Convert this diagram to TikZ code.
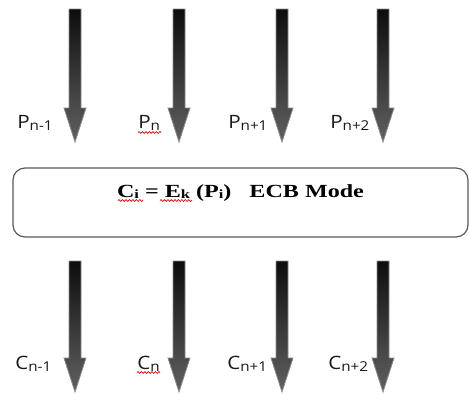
\documentclass[tikz,border=0pt]{standalone}
\usepackage{fontspec}
\setmainfont{Liberation Serif}
\newfontfamily\labelfont{Open Sans}
\usetikzlibrary{decorations.pathmorphing}
\newcommand\lsub[1]{\raisebox{-1.6pt}{\fontsize{10.2}{11}\selectfont #1}}
\newcommand\msub[1]{\raisebox{-1.4pt}{\fontsize{9.5}{10}\selectfont #1}}
\newcommand\hstretch[1]{\scalebox{1.12}[1]{#1}}
\begin{document}
\begin{tikzpicture}[x=0.75pt,y=-0.75pt,
  blockarrow/.style={top color=black!95, bottom color=black!62, draw=black!45, line width=0.6pt},
  lbl/.style={anchor=base west, inner sep=0pt, font=\labelfont\fontsize{13.8}{14}\selectfont, text=black!90},
  squiggle/.style={draw=red!85!black, line width=0.5pt, decorate, decoration={snake, amplitude=0.7pt, segment length=2.6pt}},
  modebox/.style={draw=black!65, line width=0.9pt, rounded corners=9pt, inner sep=0pt}]
\useasboundingbox (0,0) rectangle (469,394);
\fill[white] (0,0) rectangle (469,394);
% block arrows
\foreach \x in {75,179,282,383}{
  \shade[blockarrow] (\x-6,9) -- (\x+6,9) -- (\x+6,108) -- (\x+11,108) -- (\x,142) -- (\x-11,108) -- (\x-6,108) -- cycle;
  \shade[blockarrow] (\x-6,261) -- (\x+6,261) -- (\x+6,358) -- (\x+11,358) -- (\x,392) -- (\x-11,358) -- (\x-6,358) -- cycle;
}
% labels
\node[lbl] (p1) at (17,128) {\hstretch{P\lsub{n-1}}};
\node[lbl] (p2) at (138,128) {\hstretch{P\lsub{n}}};
\node[lbl] (p3) at (228,128) {\hstretch{P\lsub{n+1}}};
\node[lbl] (p4) at (330,128) {\hstretch{P\lsub{n+2}}};
\node[lbl] (c1) at (15,369) {\hstretch{C\lsub{n-1}}};
\node[lbl] (c2) at (137,369) {\hstretch{C\lsub{n}}};
\node[lbl] (c3) at (227,369) {\hstretch{C\lsub{n+1}}};
\node[lbl] (c4) at (328,369) {\hstretch{C\lsub{n+2}}};
% box
\node[modebox, minimum width=341.25pt, minimum height=51.75pt] (mode) at (240.5,202.5) {};
\node[anchor=base, inner sep=0pt, font=\fontsize{13.9}{15}\selectfont\bfseries] (eq) at (240.5,197)
  {\scalebox{1.3}[1]{C\msub{i} = E\msub{k} (P\msub{i})\ \ \ ECB Mode}};
% spell-check squiggles
\draw[squiggle] (138,132.5) -- (161,132.5);
\draw[squiggle] (137,372.5) -- (160,372.5);
\draw[squiggle] (118,200.5) -- (143,200.5);
\draw[squiggle] (160,200.5) -- (192,200.5);
\end{tikzpicture}
\end{document}
